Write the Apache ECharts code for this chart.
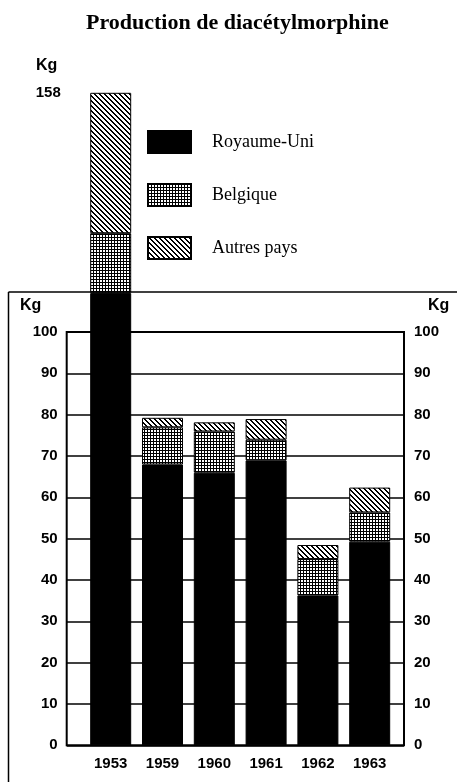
<!DOCTYPE html>
<html>
<head>
<meta charset="utf-8">
<script src="https://cdn.jsdelivr.net/npm/echarts@6/dist/echarts.min.js"></script>
<style>
html,body{margin:0;padding:0;background:#fff;}
#chart{width:457px;height:782px;}
</style>
</head>
<body>
<div id="chart"></div>
<script>
// ---- Data ----
const years = ['1953', '1959', '1960', '1961', '1962', '1963'];
const royaumeUni = [109.5, 68, 66, 69, 36.3, 49.3];
const belgique   = [14.5, 9, 10, 5, 8.8, 7.1];
const autresPays = [34, 2.3, 2.2, 5, 3.4, 6];
const seriesNames = ['Royaume-Uni', 'Belgique', 'Autres pays'];
const frameMax = 100;      // boxed scale 0-100
const frameStep = 10;
const topTickLabels = [158]; // extended scale label
const unitLabel = 'Kg';
const titleText = 'Production de diacétylmorphine';

// ---- Patterns ----
function hatchPattern() {
  const n = 5;
  const c = document.createElement('canvas');
  c.width = n; c.height = n;
  const g = c.getContext('2d');
  g.fillStyle = '#fff'; g.fillRect(0, 0, n, n);
  g.fillStyle = '#000';
  for (let y = 0; y < n; y++) for (let x = 0; x < n; x++) {
    if ((((x - y) % n) + n) % n < 2) g.fillRect(x, y, 1, 1);
  }
  return c;
}
function gridPattern() {
  const n = 3;
  const c = document.createElement('canvas');
  c.width = n; c.height = n;
  const g = c.getContext('2d');
  g.fillStyle = '#fff'; g.fillRect(0, 0, n, n);
  g.fillStyle = '#000';
  g.fillRect(0, 0, n, 1);
  g.fillRect(0, 0, 1, n);
  return c;
}

const chart = echarts.init(document.getElementById('chart'), null, {renderer: 'canvas'});
const W = 457, H = 782;
const fontAxis = {fontFamily: 'Liberation Sans', fontWeight: 'bold', fontSize: 15, color: '#000'};

const barStyleBase = {borderColor: '#000', borderWidth: 1};
const styles = [
  Object.assign({color: '#000'}, barStyleBase),
  Object.assign({color: {image: gridPattern(), repeat: 'repeat'}}, barStyleBase),
  Object.assign({color: {image: hatchPattern(), repeat: 'repeat'}}, barStyleBase)
];
const values = [royaumeUni, belgique, autresPays];

const option = {
  animation: false,
  backgroundColor: '#fff',
  title: {
    text: titleText,
    left: 81, top: 7,
    textStyle: {fontFamily: 'Liberation Serif', fontWeight: 'bold', fontSize: 22, color: '#000'}
  },
  legend: {
    orient: 'vertical',
    left: 142, top: 125,
    itemWidth: 43, itemHeight: 22, itemGap: 29,
    icon: 'rect',
    data: seriesNames,
    textStyle: {fontFamily: 'Liberation Serif', fontSize: 18, color: '#000', padding: [0, 0, 6, 16]}
  },
  grid: [
    {left: 66.7, right: 53, top: 332, bottom: 36.7, show: true, borderColor: '#000', borderWidth: 2, backgroundColor: 'transparent'},
    {left: 84.8, width: 310.8, top: 92.8, bottom: 36.7}
  ],
  xAxis: [
    {gridIndex: 0, type: 'category', data: years, show: false},
    {gridIndex: 1, type: 'category', data: years,
     axisLine: {show: false}, axisTick: {show: false},
     axisLabel: Object.assign({margin: 11}, fontAxis)}
  ],
  yAxis: [
    {gridIndex: 0, type: 'value', min: 0, max: frameMax, interval: frameStep, position: 'left',
     axisLine: {show: false}, axisTick: {show: false},
     splitLine: {show: true, lineStyle: {color: '#000', width: 1.5}},
     axisLabel: Object.assign({margin: 9}, fontAxis)},
    {gridIndex: 0, type: 'value', min: 0, max: frameMax, interval: frameStep, position: 'right',
     axisLine: {show: false}, axisTick: {show: false}, splitLine: {show: false},
     axisLabel: Object.assign({margin: 10}, fontAxis)},
    {gridIndex: 1, type: 'value', min: 0, max: 158, position: 'left',
     axisLine: {show: false}, axisTick: {show: false}, splitLine: {show: false},
     axisLabel: Object.assign({margin: 24, customValues: topTickLabels}, fontAxis)}
  ],
  graphic: [
    {type: 'line', z: 0, shape: {x1: 8.5, y1: 292, x2: W, y2: 292}, style: {stroke: '#000', lineWidth: 1.5}},
    {type: 'line', z: 0, shape: {x1: 8.5, y1: 292, x2: 8.5, y2: H}, style: {stroke: '#000', lineWidth: 1.5}},
    {type: 'text', x: 36, y: 58, style: {text: unitLabel, font: 'bold 16px Liberation Sans', fill: '#000'}},
    {type: 'text', x: 20, y: 298, style: {text: unitLabel, font: 'bold 16px Liberation Sans', fill: '#000'}},
    {type: 'text', x: 428, y: 298, style: {text: unitLabel, font: 'bold 16px Liberation Sans', fill: '#000'}}
  ],
  series: seriesNames.map((name, i) => ({
    name: name,
    type: 'bar',
    stack: 'total',
    xAxisIndex: 1, yAxisIndex: 2,
    barWidth: 41,
    itemStyle: styles[i],
    data: values[i]
  }))
};
chart.setOption(option);
</script>
</body>
</html>
